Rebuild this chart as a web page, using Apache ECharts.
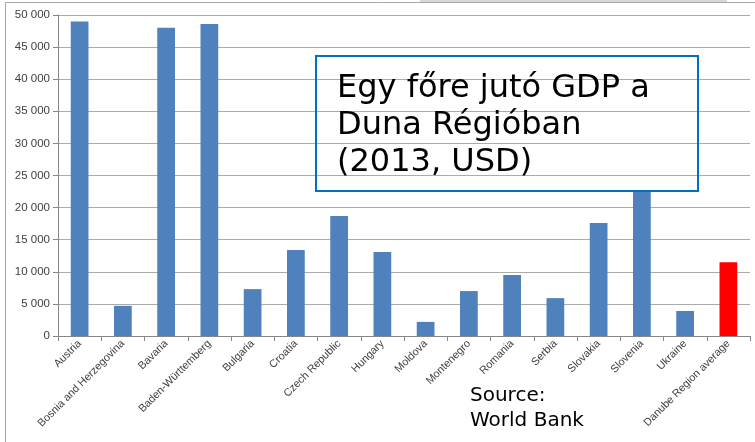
<!DOCTYPE html>
<html>
<head>
<meta charset="utf-8">
<script src="https://cdn.jsdelivr.net/npm/echarts@6/dist/echarts.min.js"></script>
<style>
html,body{margin:0;padding:0;background:#fff;}
#chart{width:755px;height:442px;}
</style>
</head>
<body>
<div id="chart"></div>
<script>
const categories = ["Austria","Bosnia and Herzegovina","Bavaria","Baden-Württemberg","Bulgaria","Croatia","Czech Republic","Hungary","Moldova","Montenegro","Romania","Serbia","Slovakia","Slovenia","Ukraine","Danube Region average"];
const gdpValues = [49000,4700,48000,48600,7300,13400,18700,13100,2200,7000,9500,5900,17600,22700,3900,11500];
const highlightCategory = "Danube Region average";
const yTicks = [0,5000,10000,15000,20000,25000,30000,35000,40000,45000,50000];
const titleLines = ["Egy főre jutó GDP a","Duna Régióban","(2013, USD)"];
const sourceLines = ["Source:","World Bank"];

const chart = echarts.init(document.getElementById('chart'));
const fmt = v => String(v).replace(/\B(?=(\d{3})+(?!\d))/g, ' ');
chart.setOption({
  animation:false,
  backgroundColor:'#fff',
  grid:{left:58,right:5,top:15,bottom:106,containLabel:false},
  xAxis:{
    type:'category',
    data:categories,
    axisLine:{lineStyle:{color:'#868686',width:1}},
    axisTick:{show:true,alignWithLabel:false,interval:0,length:5,lineStyle:{color:'#868686'}},
    axisLabel:{interval:0,rotate:45,fontSize:10.8,fontFamily:'Liberation Sans',color:'#404040',margin:6}
  },
  yAxis:{
    type:'value',
    min:yTicks[0],max:yTicks[yTicks.length-1],interval:5000,
    axisLine:{show:true,lineStyle:{color:'#868686'}},
    axisTick:{show:true,length:5,lineStyle:{color:'#868686'}},
    splitLine:{lineStyle:{color:'#ABABAB',width:1}},
    axisLabel:{formatter:fmt,fontSize:11.5,fontFamily:'Liberation Sans',color:'#404040',margin:8}
  },
  series:[{
    type:'bar',
    barWidth:'41%',
    data:gdpValues.map((v,i)=>({value:v,itemStyle:{color:categories[i]===highlightCategory?'#FF0000':'#4F81BD'}}))
  }],
  graphic:[
    {type:'rect',shape:{x:5.5,y:2.5,width:760,height:450},style:{fill:'none',stroke:'#A6A6A6',lineWidth:1},z:-1,silent:true},
    {type:'rect',shape:{x:420,y:0,width:307,height:2},style:{fill:'#D8D8D8'},silent:true},
    {type:'rect',shape:{x:316,y:56,width:382,height:135},style:{fill:'none',stroke:'#0070C0',lineWidth:2},z:100},
    {type:'text',left:337,top:70,z:101,style:{text:titleLines.join('\n'),font:'32px "DejaVu Sans"',fill:'#000',lineHeight:37}},
    {type:'text',left:470,top:383,z:101,style:{text:sourceLines.join('\n'),font:'20px "DejaVu Sans"',fill:'#000',lineHeight:25}}
  ]
});
</script>
</body>
</html>
